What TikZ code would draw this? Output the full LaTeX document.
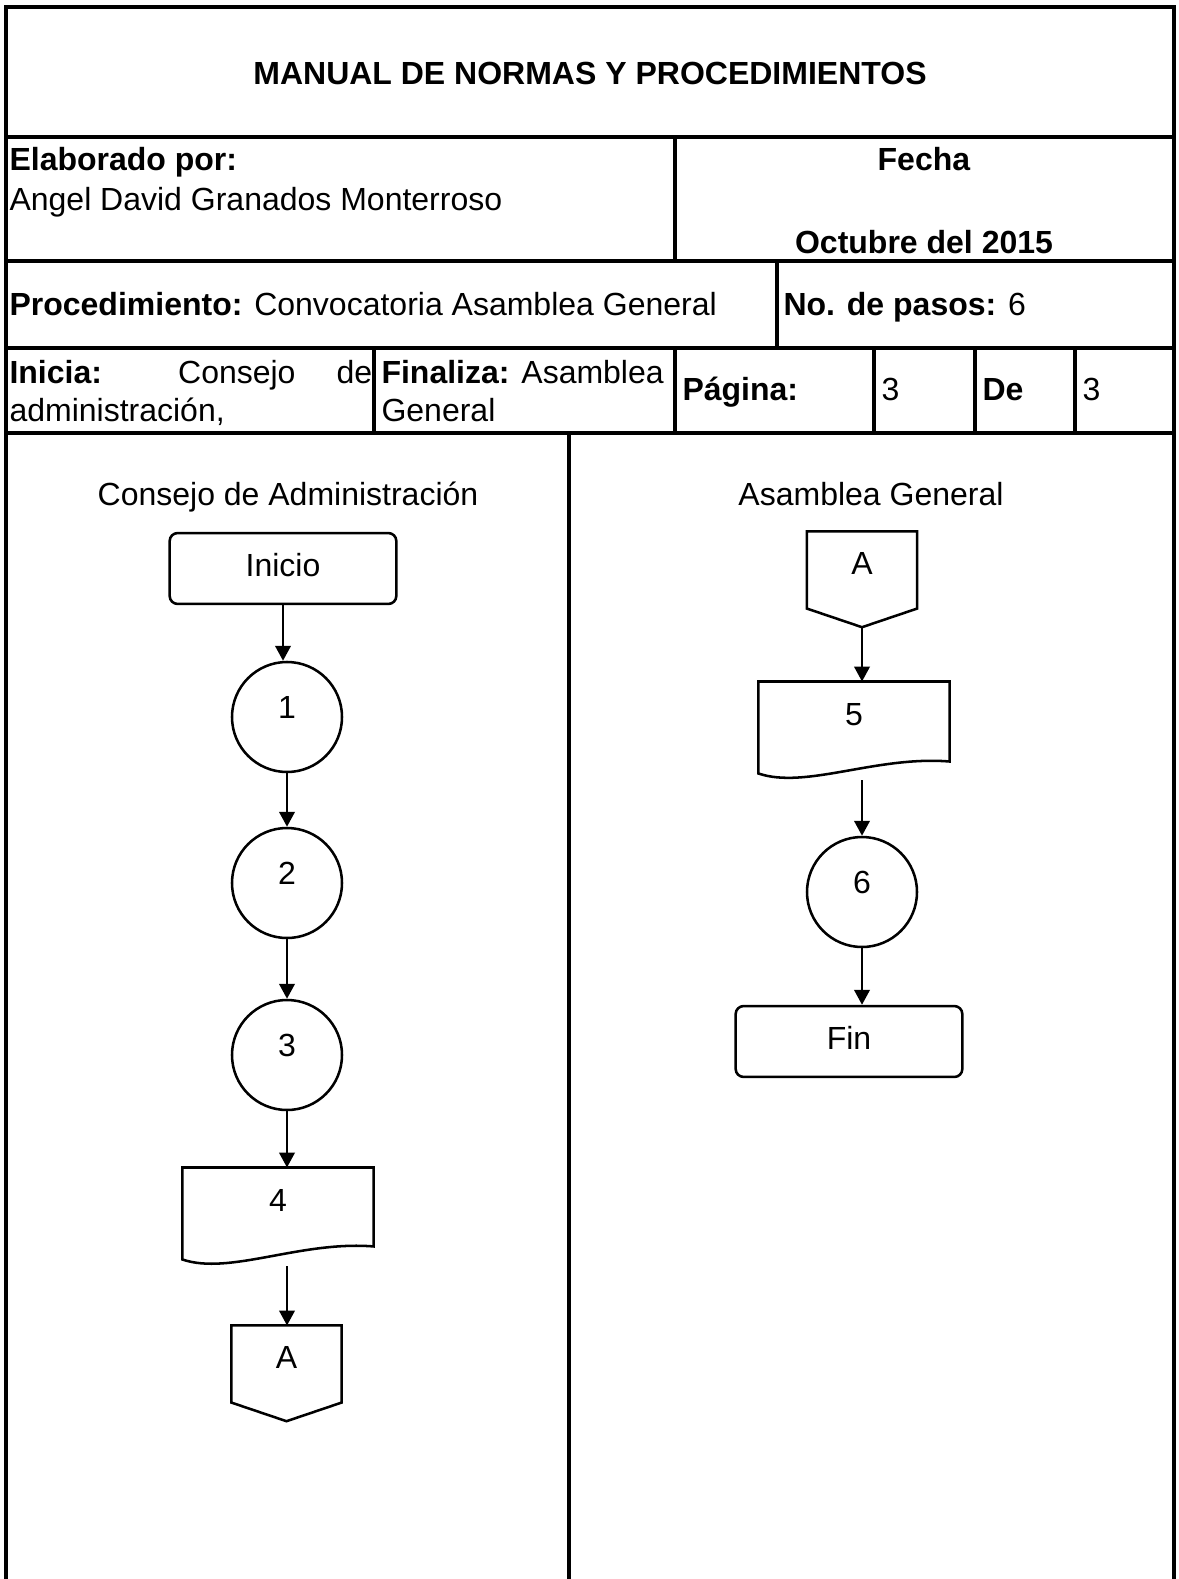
\documentclass[tikz,border=0pt]{standalone}
\usepackage{fontspec}
\setmainfont{Liberation Sans}
\usetikzlibrary{arrows.meta,calc}

\tikzset{
  tline/.style={line width=1.25pt},
  fline/.style={line width=0.95pt},
  flow/.style={fline,-{Triangle[length=5.6pt,width=5.8pt]}},
  txt/.style={inner sep=0pt,anchor=base west},
  ctxt/.style={inner sep=0pt,anchor=base},
  terminal/.style={draw,fline,rounded corners=3pt,minimum width=85pt,minimum height=26.6pt,text depth=2.6pt,inner sep=0pt},
  paso/.style={draw,fline,circle,minimum size=41.25pt,text depth=7.5pt,inner sep=0pt},
  docbox/.style={minimum width=71.25pt,minimum height=34.1pt,text depth=9.75pt,inner sep=0pt},
  conector/.style={minimum width=41pt,minimum height=28.5pt,text depth=5.25pt,inner sep=0pt}
}

\begin{document}
\begin{tikzpicture}[x=0.375pt,y=-0.375pt,font=\fontsize{12pt}{15pt}\selectfont]
\useasboundingbox (0,0) rectangle (1178,1579);
% encabezado
\draw[tline] (6,1579) -- (6,7) -- (1174,7) -- (1174,1579);
\draw[tline] (6,137) -- (1174,137);
\draw[tline] (6,261) -- (1174,261);
\draw[tline] (6,348) -- (1174,348);
\draw[tline] (6,433) -- (1174,433);
\draw[tline] (675,137) -- (675,261);
\draw[tline] (777,261) -- (777,348);
\draw[tline] (374,348) -- (374,433);
\draw[tline] (675,348) -- (675,433);
\draw[tline] (874,348) -- (874,433);
\draw[tline] (975,348) -- (975,433);
\draw[tline] (1075,348) -- (1075,433);
\draw[tline] (569,433) -- (569,1579);

\node[ctxt] (titulo) at (590,85) {\textbf{MANUAL DE NORMAS Y PROCEDIMIENTOS}};
\node[txt] (elab) at (9,171) {\textbf{Elaborado por:}};
\node[txt] (autor) at (9,211) {Angel David Granados Monterroso};
\node[ctxt] (fecha) at (924,171) {\textbf{Fecha}};
\node[ctxt] (mes) at (924,254) {\textbf{Octubre del 2015}};
\node[txt] (proc) at (9,316) {\textbf{Procedimiento:} Convocatoria Asamblea General};
\node[txt] (pasos) at (783,316) {\textbf{No. de pasos:} 6};
\node[txt] (inicia) at (9,384) {\makebox[136pt][s]{\textbf{Inicia:} Consejo de}};
\node[txt] (inicia2) at (9,422) {administración,};
\node[txt] (finaliza) at (381,384) {\textbf{Finaliza:} Asamblea};
\node[txt] (finaliza2) at (381,422) {General};
\node[txt] (pagina) at (682,401) {\textbf{Página:}};
\node[txt] (hoja) at (881,401) {3};
\node[txt] (de) at (982,401) {\textbf{De}};
\node[txt] (total) at (1082,401) {3};

% Consejo de Administracion
\node[ctxt] (carril1) at (288,505) {Consejo de Administración};
\node[terminal] (ini) at (283,568.5) {Inicio};
\node[paso] (p1) at (287,717) {1};
\node[paso] (p2) at (287,883) {2};
\node[paso] (p3) at (287,1055) {3};
\node[docbox] (p4) at (278,1213.5) {4};
\node[conector] (a1) at (286.5,1364) {A};

\draw[fline] (p4.south west) -- (p4.north west) -- (p4.north east) -- ([yshift=4.9pt]p4.south east)
  .. controls ($(p4.south east)+(-73,-19)$) and ($(p4.south west)+(47,16)$) .. (p4.south west) -- cycle;
\draw[fline] (a1.north west) -- (a1.north east) -- (a1.south east) -- ([yshift=-7pt]a1.south) -- (a1.south west) -- cycle;

\draw[flow] (ini.south) -- (ini.south |- p1.north);
\draw[flow] (p1.south) -- (p2.north);
\draw[flow] (p2.south) -- (p3.north);
\draw[flow] (p3.south) -- (p3.south |- p4.north);
\draw[flow] ([yshift=-2.6pt]p4.south -| p3.south) -- (p3.south |- a1.north);

% Asamblea General
\node[ctxt] (carril2) at (871,505) {Asamblea General};
\node[conector] (a2) at (862,570) {A};
\node[docbox] (p5) at (854,727.5) {5};
\node[paso] (p6) at (862,892) {6};
\node[terminal] (fin) at (849,1041.5) {Fin};

\draw[fline] (a2.north west) -- (a2.north east) -- (a2.south east) -- ([yshift=-7pt]a2.south) -- (a2.south west) -- cycle;
\draw[fline] (p5.south west) -- (p5.north west) -- (p5.north east) -- ([yshift=4.5pt]p5.south east)
  .. controls ($(p5.south east)+(-73,-18)$) and ($(p5.south west)+(47,16)$) .. (p5.south west) -- cycle;

\draw[flow] ([yshift=-7pt]a2.south) -- (a2.south |- p5.north);
\draw[flow] ([yshift=-2.6pt]p5.south -| p6.north) -- (p6.north);
\draw[flow] (p6.south) -- (p6.south |- fin.north);
\end{tikzpicture}
\end{document}
